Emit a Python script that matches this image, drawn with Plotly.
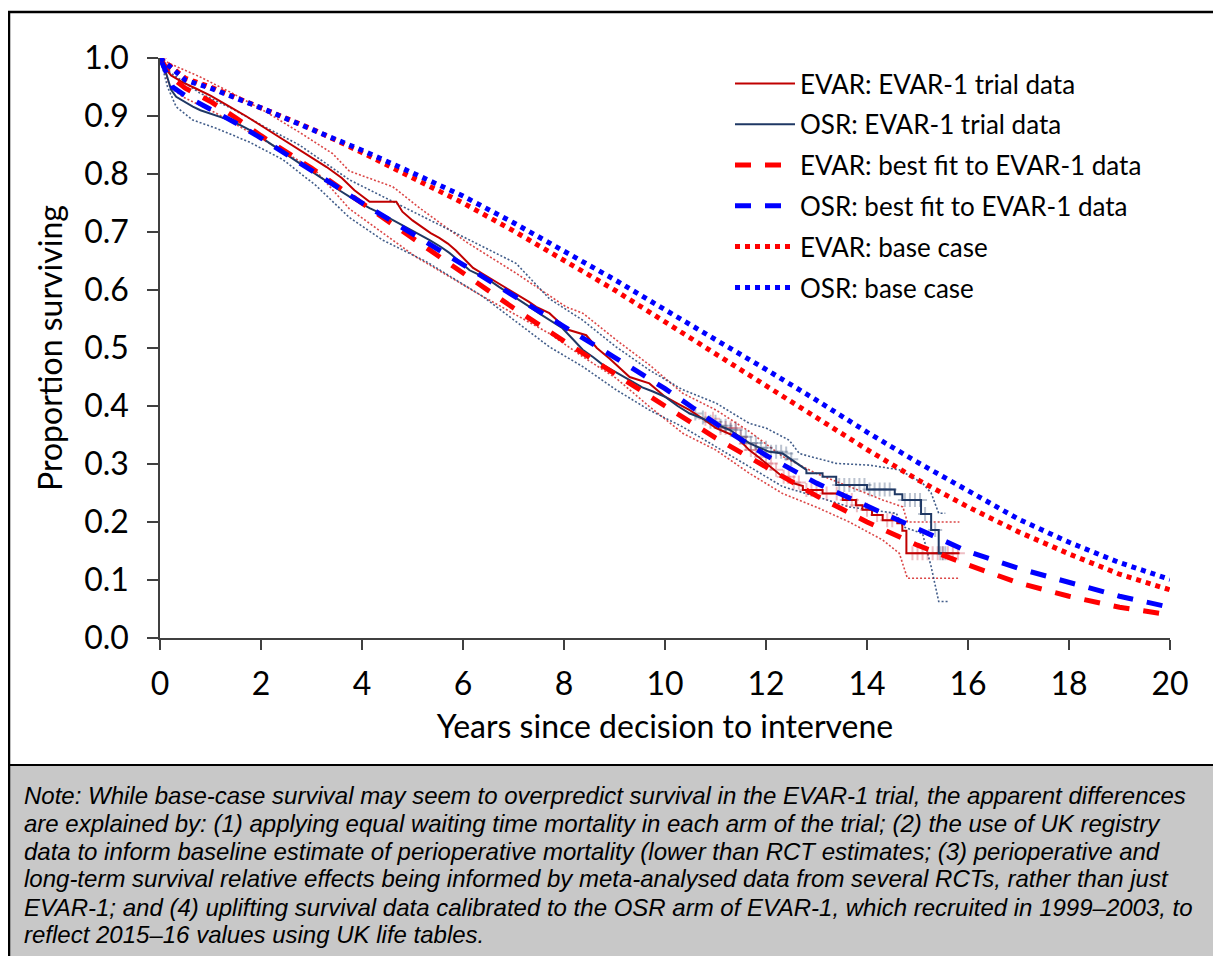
import numpy as np
import plotly.graph_objects as go

# ---------------- data ----------------
# Modelled base-case survival (dotted)
base_t = [0, 0.5, 1, 2, 3, 4, 5, 6, 7, 8, 9, 10, 11, 12, 13, 14, 15, 16, 17, 18, 19, 20]
evar_base = [1.0, 0.965, 0.95, 0.915, 0.878, 0.837, 0.794, 0.75, 0.702, 0.652, 0.60, 0.545,
             0.49, 0.436, 0.38, 0.325, 0.273, 0.226, 0.183, 0.145, 0.11, 0.083]
osr_base = [1.0, 0.962, 0.948, 0.914, 0.877, 0.841, 0.802, 0.762, 0.716, 0.667, 0.618, 0.566,
            0.515, 0.463, 0.41, 0.355, 0.303, 0.253, 0.205, 0.165, 0.13, 0.101]

# Best fit to EVAR-1 data (dashed)
fit_t = [0, 0.25, 0.5, 1, 1.5, 2, 3, 4, 5, 6, 7, 8, 9, 10, 11, 12, 13, 14, 15, 16, 17, 18, 19, 20]
evar_fit = [1.0, 0.965, 0.948, 0.925, 0.897, 0.866, 0.81, 0.75, 0.69, 0.63, 0.569, 0.512, 0.455,
            0.40, 0.345, 0.294, 0.245, 0.2, 0.16, 0.126, 0.095, 0.072, 0.053, 0.04]
osr_fit = [1.0, 0.95, 0.935, 0.912, 0.888, 0.862, 0.806, 0.75, 0.697, 0.643, 0.59, 0.537, 0.484,
           0.43, 0.37, 0.315, 0.267, 0.228, 0.19, 0.149, 0.12, 0.095, 0.072, 0.053]

# Kaplan-Meier: EVAR arm of EVAR-1 trial
evar_km_t = [0, 0.08, 0.22, 0.45, 0.72, 1.0, 1.3, 1.7, 2.1, 2.5, 2.9, 3.3, 3.6, 3.85, 4.0, 4.15,
             4.68, 4.8, 5.0, 5.2, 5.36, 5.53, 5.7, 5.86, 6.06, 6.2, 6.39, 6.6, 6.79, 6.95, 7.12,
             7.3, 7.45, 7.71, 7.9, 8.1, 8.44, 8.65, 8.9, 9.1, 9.3, 9.69, 10.0, 10.25, 10.49,
             10.75, 11.01, 11.41, 11.55, 11.67, 11.85, 12.0, 12.15, 12.33, 12.5, 12.73, 12.73,
             13.12, 13.12, 13.52, 13.52, 13.78, 13.78, 13.91, 13.91, 14.1, 14.1, 14.31, 14.31,
             14.6, 14.6, 14.7, 14.7, 14.78, 14.78, 15.83]
evar_km_s = [1.0, 0.985, 0.97, 0.958, 0.947, 0.935, 0.92, 0.9, 0.878, 0.856, 0.834, 0.812, 0.793,
             0.772, 0.762, 0.752, 0.752, 0.735, 0.72, 0.707, 0.698, 0.69, 0.68, 0.668, 0.65,
             0.638, 0.628, 0.617, 0.608, 0.599, 0.59, 0.58, 0.571, 0.56, 0.545, 0.531, 0.522,
             0.50, 0.482, 0.466, 0.45, 0.439, 0.416, 0.404, 0.393, 0.378, 0.362, 0.347, 0.335,
             0.324, 0.312, 0.301, 0.29, 0.278, 0.268, 0.262, 0.255,
             0.255, 0.249, 0.249, 0.238, 0.238, 0.229, 0.229, 0.221, 0.221, 0.212, 0.212, 0.203,
             0.203, 0.198, 0.198, 0.185, 0.185, 0.146, 0.146]

# Kaplan-Meier: OSR arm of EVAR-1 trial
osr_km_t = [0, 0.05, 0.12, 0.22, 0.32, 0.5, 0.65, 0.8, 0.98, 1.2, 1.38, 1.6, 1.77, 2.0, 2.17,
            2.4, 2.56, 2.75, 2.96, 3.15, 3.36, 3.55, 3.75, 3.95, 4.15, 4.35, 4.54, 4.75, 4.94,
            5.15, 5.34, 5.55, 5.73, 5.95, 6.13, 6.35, 6.52, 6.72, 6.92, 7.12, 7.32, 7.5, 7.71,
            7.97, 8.2, 8.37, 8.58, 8.77, 9.05, 9.3, 9.55, 9.76, 10.0, 10.25, 10.49, 10.7, 10.88,
            11.08, 11.28, 11.48, 11.67, 11.87, 12.07, 12.33, 12.5, 12.6, 12.8, 12.8,
            13.12, 13.12, 13.39, 13.39, 14.0, 14.0, 14.55, 14.55, 14.7, 14.7, 15.07, 15.07,
            15.27, 15.27, 15.42, 15.42, 15.5]
osr_km_s = [1.0, 0.985, 0.974, 0.945, 0.933, 0.924, 0.916, 0.91, 0.905, 0.899, 0.893, 0.884,
            0.876, 0.863, 0.853, 0.84, 0.83, 0.818, 0.807, 0.796, 0.784, 0.772, 0.761, 0.751,
            0.741, 0.733, 0.724, 0.715, 0.706, 0.696, 0.686, 0.675, 0.664, 0.648, 0.634, 0.625,
            0.617, 0.605, 0.594, 0.583, 0.571, 0.56, 0.548, 0.534, 0.513, 0.497, 0.484, 0.471,
            0.457, 0.445, 0.432, 0.425, 0.416, 0.40, 0.387, 0.38, 0.373, 0.366, 0.359, 0.347,
            0.336, 0.328, 0.321, 0.318, 0.308, 0.301, 0.29, 0.284,
            0.284, 0.278, 0.278, 0.264, 0.264, 0.256, 0.256, 0.248, 0.248, 0.238, 0.238, 0.214,
            0.214, 0.186, 0.186, 0.146, 0.146]

# 95% confidence limits of the Kaplan-Meier curves (thin dotted)
evar_up_t = [0, 0.2, 0.78, 1.44, 2.1, 2.76, 3.42, 3.75, 4.61, 5.1, 6.06, 7.05, 8.04, 8.37, 9.03,
             9.69, 10.35, 11.01, 11.67, 12.33, 12.99, 13.65, 14.31, 14.71, 14.8, 15.83]
evar_up_s = [1.0, 0.99, 0.968, 0.939, 0.907, 0.872, 0.835, 0.805, 0.778, 0.744, 0.683, 0.629,
             0.571, 0.56, 0.514, 0.471, 0.422, 0.393, 0.356, 0.313, 0.284, 0.261, 0.238, 0.226,
             0.2, 0.2]
evar_lo_t = [0, 0.2, 0.45, 1.11, 1.77, 2.43, 3.09, 3.75, 5.07, 6.39, 7.71, 8.37, 9.03, 9.69,
             10.35, 11.01, 11.67, 12.33, 12.99, 13.65, 14.31, 14.64, 14.8, 15.83]
evar_lo_s = [1.0, 0.95, 0.933, 0.905, 0.872, 0.84, 0.805, 0.74, 0.657, 0.589, 0.525, 0.485,
             0.448, 0.399, 0.353, 0.324, 0.284, 0.249, 0.226, 0.2, 0.169, 0.146, 0.103, 0.103]
osr_up_t = [0, 0.2, 0.78, 1.44, 2.1, 2.76, 3.42, 3.75, 5.47, 7.05, 7.71, 8.37, 9.03, 9.69, 10.35,
            11.01, 11.67, 12.0, 12.46, 12.66, 13.39, 14.05, 14.64, 15.1, 15.27, 15.42, 15.55]
osr_up_s = [1.0, 0.975, 0.94, 0.912, 0.88, 0.85, 0.81, 0.79, 0.715, 0.646, 0.585, 0.548, 0.502,
            0.462, 0.428, 0.405, 0.37, 0.362, 0.341, 0.318, 0.301, 0.298, 0.29, 0.267, 0.25,
            0.215, 0.215]
osr_lo_t = [0, 0.15, 0.32, 0.65, 1.11, 1.77, 2.43, 3.09, 3.75, 4.41, 5.27, 6.39, 7.71, 8.37,
            9.03, 9.69, 10.35, 11.01, 11.67, 12.33, 12.99, 13.65, 14.31, 14.58, 14.71, 15.1,
            15.27, 15.42, 15.63]
osr_lo_s = [1.0, 0.95, 0.916, 0.893, 0.879, 0.855, 0.825, 0.78, 0.725, 0.686, 0.649, 0.589,
            0.502, 0.468, 0.428, 0.393, 0.364, 0.33, 0.295, 0.261, 0.244, 0.226, 0.218, 0.215,
            0.192, 0.18, 0.123, 0.063, 0.063]

# Censoring times (marks on the KM curves)
evar_cens_t = [0, 10.8, 10.95, 11.1, 11.2, 11.3, 11.4, 11.5, 11.6, 11.7, 11.8, 11.9, 12.0, 12.1,
               12.2, 12.35, 12.45, 12.55, 12.65, 12.8, 12.9, 13.0, 13.2, 13.4, 13.6, 13.7, 13.8,
               14.0, 14.2, 14.4, 14.5, 14.9, 15.0, 15.1, 15.2, 15.3, 15.4, 15.5, 15.6, 15.7, 15.8]
osr_cens_t = [10.6, 10.75, 10.9, 11.0, 11.1, 11.2, 11.3, 11.4, 11.5, 11.6, 11.7, 11.8, 11.9,
              12.0, 12.1, 12.2, 12.3, 12.4, 12.5, 13.45, 13.55, 13.65, 13.75, 13.85, 13.95,
              14.05, 14.15, 14.25, 14.35, 14.45, 14.75, 14.85, 14.95, 15.05, 15.15, 15.35,
              15.45, 15.5, 15.55]

x_ticks = [0, 2, 4, 6, 8, 10, 12, 14, 16, 18, 20]
y_ticks = [0.0, 0.1, 0.2, 0.3, 0.4, 0.5, 0.6, 0.7, 0.8, 0.9, 1.0]

note_lines = [
    "Note: While base-case survival may seem to overpredict survival in the EVAR-1 trial, the apparent differences",
    "are explained by: (1) applying equal waiting time mortality in each arm of the trial; (2) the use of UK registry",
    "data to inform baseline estimate of perioperative mortality (lower than RCT estimates; (3) perioperative and",
    "long-term survival relative effects being informed by meta-analysed data from several RCTs, rather than just",
    "EVAR-1; and (4) uplifting survival data calibrated to the OSR arm of EVAR-1, which recruited in 1999\u20132003, to",
    "reflect 2015\u201316 values using UK life tables.",
]


def km_value(times, surv, t):
    """KM survival at censoring time t (last value at or before t)."""
    times = np.asarray(times)
    out = []
    for tt in t:
        idx = np.where(times <= tt)[0][-1]
        out.append(surv[idx])
    return out


# ---------------- figure ----------------
FONT = "Lato, 'Open Sans', sans-serif"
EVAR_DARK = "#C00000"
OSR_DARK = "#1F3864"

fig = go.Figure()

# confidence limits
for t, s, col in [(evar_up_t, evar_up_s, "rgba(215,50,50,0.9)"),
                  (evar_lo_t, evar_lo_s, "rgba(215,50,50,0.9)"),
                  (osr_up_t, osr_up_s, "rgba(45,75,125,0.9)"),
                  (osr_lo_t, osr_lo_s, "rgba(45,75,125,0.9)")]:
    fig.add_trace(go.Scatter(x=t, y=s, mode="lines", showlegend=False, hoverinfo="skip",
                             line=dict(color=col, width=1.6, dash="2px,2px")))

# censor marks
fig.add_trace(go.Scatter(x=evar_cens_t, y=km_value(evar_km_t, evar_km_s, evar_cens_t),
                         mode="markers", showlegend=False, hoverinfo="skip",
                         marker=dict(symbol="cross-thin", size=10,
                                     line=dict(color="rgba(200,40,60,0.3)", width=2))))
fig.add_trace(go.Scatter(x=osr_cens_t, y=km_value(osr_km_t, osr_km_s, osr_cens_t),
                         mode="markers", showlegend=False, hoverinfo="skip",
                         marker=dict(symbol="cross-thin", size=10,
                                     line=dict(color="rgba(31,56,100,0.3)", width=2))))

# legend traces
fig.add_trace(go.Scatter(x=evar_km_t, y=evar_km_s, mode="lines", name="EVAR: EVAR-1 trial data",
                         legendgroup="a", line=dict(color=EVAR_DARK, width=2)))
fig.add_trace(go.Scatter(x=osr_km_t, y=osr_km_s, mode="lines", name="OSR: EVAR-1 trial data",
                         legendgroup="b", line=dict(color=OSR_DARK, width=2)))
fig.add_trace(go.Scatter(x=fit_t, y=evar_fit, mode="lines", name="EVAR: best fit to EVAR-1 data",
                         legendgroup="c", line=dict(color="#FF0000", width=5, dash="16px,14px")))
fig.add_trace(go.Scatter(x=fit_t, y=osr_fit, mode="lines", name="OSR: best fit to EVAR-1 data",
                         legendgroup="d", line=dict(color="#0000FF", width=5, dash="16px,14px")))
fig.add_trace(go.Scatter(x=base_t, y=evar_base, mode="lines", name="EVAR: base case",
                         legendgroup="e", line=dict(color="#FF0000", width=5, dash="5px,5px")))
fig.add_trace(go.Scatter(x=base_t, y=osr_base, mode="lines", name="OSR: base case",
                         legendgroup="f", line=dict(color="#0000FF", width=5, dash="5px,5px")))

# The page adds an 8px body margin; layout below is expressed in page pixels.
OFF = 8
W, H = 1221 - OFF, 956 - OFF
L, R, T, B = 160, 1170, 58, 638   # plot area in page pixels


def px(xp):
    return (xp - L) / (R - L)


def py(yp):
    return (B - yp) / (B - T)


shapes = [
    dict(type="rect", xref="paper", yref="paper", x0=px(9), x1=px(1216), y0=py(1000), y1=py(765),
         fillcolor="#C8C8C8", line=dict(color="black", width=2), layer="below"),
    dict(type="rect", xref="paper", yref="paper", x0=px(9), x1=px(1216), y0=py(1000), y1=py(12),
         fillcolor="rgba(0,0,0,0)", line=dict(color="black", width=2.5), layer="above"),
]

note_y = [795, 823, 851, 879, 907, 934]
annotations = [
    dict(xref="paper", yref="paper", x=px(22), y=py(yy), xanchor="left", yanchor="middle",
         showarrow=False, text="<i>" + line + "</i>",
         font=dict(family="'Liberation Sans', Arial, sans-serif", size=24, color="black"))
    for line, yy in zip(note_lines, note_y)
]

fig.update_layout(
    width=W, height=H,
    margin=dict(l=L - OFF, r=W - (R - OFF), t=T - OFF, b=H - (B - OFF), pad=0),
    paper_bgcolor="white", plot_bgcolor="white",
    font=dict(family=FONT, color="black"),
    shapes=shapes, annotations=annotations,
    legend=dict(x=px(730), y=py(60), xanchor="left", yanchor="top",
                font=dict(family=FONT, size=26, color="black"),
                bgcolor="rgba(0,0,0,0)", tracegroupgap=4, traceorder="grouped",
                itemwidth=60),
    xaxis=dict(range=[0, 20], tickvals=x_ticks, ticktext=[str(v) for v in x_ticks],
               ticks="outside", ticklen=10, tickcolor="#404040", tickwidth=1.5,
               showline=True, linecolor="#404040", linewidth=1.5, showgrid=False, zeroline=False,
               tickfont=dict(size=32, family=FONT), ticklabelstandoff=7,
               title=dict(text="Years since decision to intervene", font=dict(size=32, family=FONT),
                          standoff=14)),
    yaxis=dict(range=[0, 1], tickvals=y_ticks, ticktext=[f"{v:.1f}" for v in y_ticks],
               ticks="outside", ticklen=11, tickcolor="#404040", tickwidth=1.5,
               showline=True, linecolor="#404040", linewidth=1.5, showgrid=False, zeroline=False,
               tickfont=dict(size=32, family=FONT), ticklabelstandoff=12,
               title=dict(text="Proportion surviving", font=dict(size=32, family=FONT),
                          standoff=12)),
)

fig.write_html("out.html")
